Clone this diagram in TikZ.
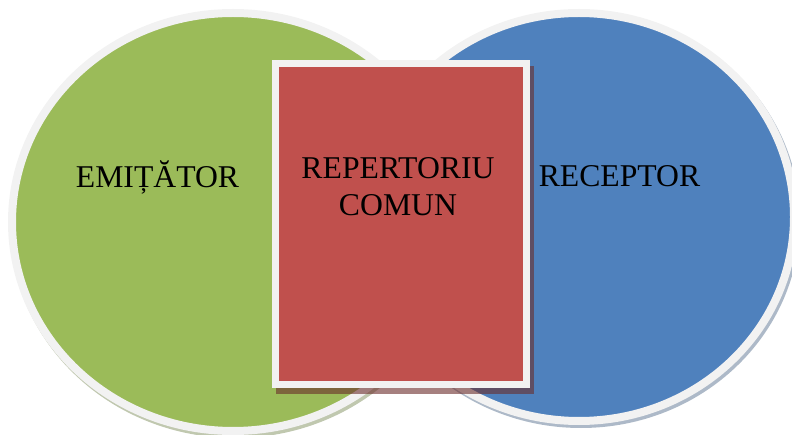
\documentclass[tikz,border=0pt]{standalone}
\usepackage{fontspec}
\setmainfont{Liberation Serif}
\usetikzlibrary{shapes.geometric,positioning}
\definecolor{sendgreen}{RGB}{155,187,89}
\definecolor{recvblue}{RGB}{79,129,189}
\definecolor{commonred}{RGB}{192,80,77}
\definecolor{rimgray}{RGB}{242,242,242}

\tikzset{
    rim/.style={ellipse, draw=rimgray, line width=8pt, inner sep=0pt},
    halo/.style={ellipse, inner sep=0pt, fill opacity=0.55},
    caption/.style={font=\fontsize{31.7}{37}\selectfont, text=black, align=center}
}

\begin{document}
\begin{tikzpicture}[x=1pt, y=-1pt]
    \useasboundingbox (0,0) rectangle (792,435);

    % shadows of the two circles
    \node[halo, fill=sendgreen!45!gray, minimum width=450pt, minimum height=426pt] (sendhalo) at (235,225) {};
    \node[halo, fill=recvblue!45!gray, minimum width=438pt, minimum height=416pt] (recvhalo) at (581,220) {};

    \node[rim, fill=sendgreen, minimum width=442pt, minimum height=418pt] (sender) at (233,222) {};
    \node[rim, fill=recvblue, minimum width=430pt, minimum height=408pt] (receiver) at (579,217) {};

    % common repertoire box
    \fill[commonred!55!black, opacity=0.6] (276,66) rectangle (534,394);
    \node[draw=rimgray, fill=commonred, line width=7pt, inner sep=0pt,
          minimum width=251pt, minimum height=320.5pt] (common) at (401,224.25) {};

    \node[caption, anchor=base] (sendtext) at (157.5,188) {EMIȚĂTOR};
    \node[caption, anchor=base] (recvtext) at (619.5,187) {RECEPTOR};
    \node[caption] (commontext) at (398,186.5) {REPERTORIU\\COMUN};
\end{tikzpicture}
\end{document}
